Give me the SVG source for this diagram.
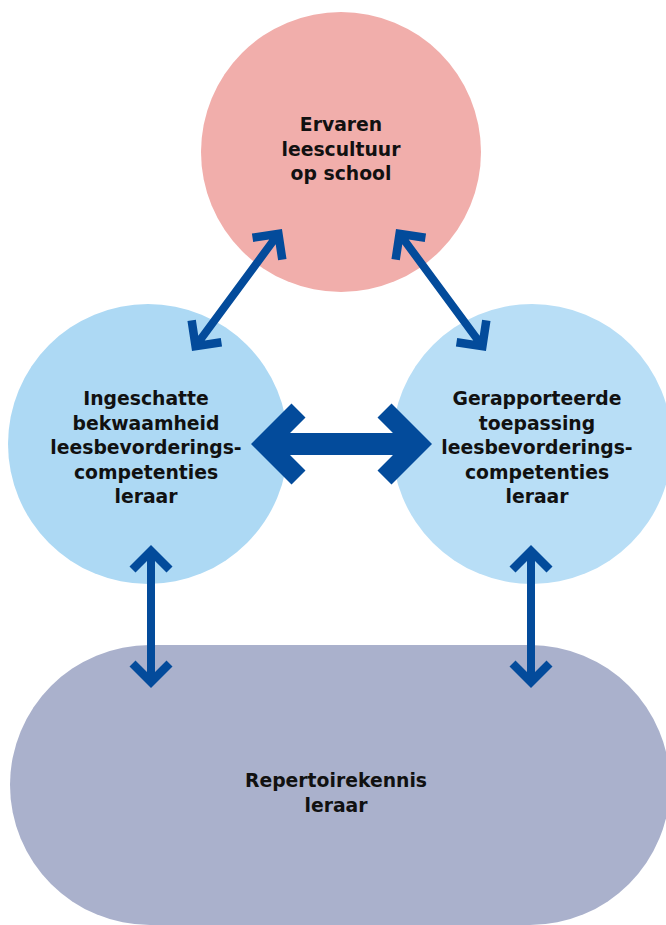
<svg xmlns="http://www.w3.org/2000/svg" width="666" height="925" viewBox="0 0 666 925">
  <style>
    .lbl { font-family: "DejaVu Sans", "Liberation Sans", sans-serif; font-weight: bold; font-size: 18.8px; fill: #111111; text-anchor: middle; }
    .arrow { fill: #034B9B; }
  </style>
  <rect width="666" height="925" fill="#ffffff"/>
  <g id="node-repertoire">
    <rect x="10" y="645" width="660" height="280" rx="140" ry="140" fill="#AAB1CC"/>
    <text class="lbl" x="336" y="787">Repertoirekennis</text>
    <text class="lbl" x="336" y="812">leraar</text>
  </g>
  <g id="node-leescultuur">
    <circle cx="341" cy="152" r="140" fill="#F1AEAB"/>
    <text class="lbl" x="341" y="131">Ervaren</text>
    <text class="lbl" x="341" y="155.5">leescultuur</text>
    <text class="lbl" x="341" y="180">op school</text>
  </g>
  <g id="node-ingeschatte">
    <circle cx="148" cy="444" r="140" fill="#ADD9F4"/>
    <text class="lbl" x="146" y="405">Ingeschatte</text>
    <text class="lbl" x="146" y="429.5">bekwaamheid</text>
    <text class="lbl" x="146" y="454">leesbevorderings-</text>
    <text class="lbl" x="146" y="478.5">competenties</text>
    <text class="lbl" x="146" y="503">leraar</text>
  </g>
  <g id="node-gerapporteerde">
    <circle cx="532" cy="444" r="140" fill="#B8DEF6"/>
    <text class="lbl" x="537" y="405">Gerapporteerde</text>
    <text class="lbl" x="537" y="429.5">toepassing</text>
    <text class="lbl" x="537" y="454">leesbevorderings-</text>
    <text class="lbl" x="537" y="478.5">competenties</text>
    <text class="lbl" x="537" y="503">leraar</text>
  </g>
  <g id="connectors">
    <polygon class="arrow" transform="translate(251,444)" points="0,0 40.5,-40.5 54.5,-26.5 39,-11 142,-11 126.5,-26.5 140.5,-40.5 181,0 140.5,40.5 126.5,26.5 142,11 39,11 54.5,26.5 40.5,40.5"/>
    <polygon class="arrow" transform="translate(192,351) rotate(-53.6)" points="0,0 21.5,-21.5 27.5,-15.5 16,-4 135.6,-4 124.1,-15.5 130.1,-21.5 151.6,0 130.1,21.5 124.1,15.5 135.6,4 16,4 27.5,15.5 21.5,21.5"/>
    <polygon class="arrow" transform="translate(396,229) rotate(53.6)" points="0,0 21.5,-21.5 27.5,-15.5 16,-4 135.6,-4 124.1,-15.5 130.1,-21.5 151.6,0 130.1,21.5 124.1,15.5 135.6,4 16,4 27.5,15.5 21.5,21.5"/>
    <polygon class="arrow" transform="translate(151,545) rotate(90)" points="0,0 21.5,-21.5 27.5,-15.5 16,-4 127,-4 115.5,-15.5 121.5,-21.5 143,0 121.5,21.5 115.5,15.5 127,4 16,4 27.5,15.5 21.5,21.5"/>
    <polygon class="arrow" transform="translate(531,545) rotate(90)" points="0,0 21.5,-21.5 27.5,-15.5 16,-4 127,-4 115.5,-15.5 121.5,-21.5 143,0 121.5,21.5 115.5,15.5 127,4 16,4 27.5,15.5 21.5,21.5"/>
  </g>
</svg>
